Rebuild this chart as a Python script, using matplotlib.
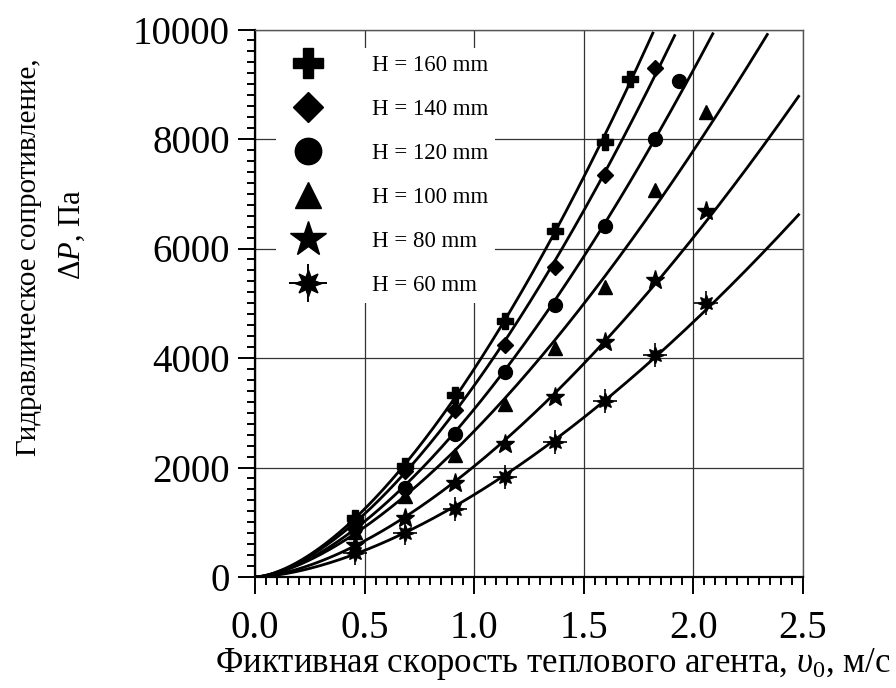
import numpy as np
import matplotlib
matplotlib.use("Agg")
import matplotlib.pyplot as plt
from matplotlib.lines import Line2D
from matplotlib.legend_handler import HandlerTuple
from matplotlib.ticker import MultipleLocator

plt.rcParams['font.family'] = ['Liberation Serif', 'DejaVu Serif']
plt.rcParams['mathtext.fontset'] = 'custom'
plt.rcParams['mathtext.rm'] = 'Liberation Serif'
plt.rcParams['mathtext.it'] = 'Liberation Serif:italic'

# ---- data ----
labels = ["H = 160 mm", "H = 140 mm", "H = 120 mm", "H = 100 mm", "H = 80 mm", "H = 60 mm"]
x_h160 = [0.455, 0.683, 0.911, 1.139, 1.367, 1.595, 1.71]
dp_h160 = [1070, 2030, 3320, 4670, 6320, 7950, 9100]
x_h140 = [0.455, 0.683, 0.911, 1.139, 1.367, 1.595, 1.823]
dp_h140 = [980, 1940, 3050, 4240, 5670, 7340, 9300]
x_h120 = [0.455, 0.683, 0.911, 1.139, 1.367, 1.595, 1.823, 1.934]
dp_h120 = [900, 1630, 2610, 3750, 4970, 6420, 8000, 9060]
x_h100 = [0.455, 0.683, 0.911, 1.139, 1.367, 1.595, 1.823, 2.056]
dp_h100 = [820, 1480, 2230, 3160, 4190, 5300, 7060, 8490]
x_h80 = [0.455, 0.683, 0.911, 1.139, 1.367, 1.595, 1.823, 2.056]
dp_h80 = [590, 1070, 1710, 2430, 3290, 4300, 5420, 6690]
x_h60 = [0.455, 0.683, 0.911, 1.139, 1.367, 1.595, 1.823, 2.056]
dp_h60 = [430, 800, 1250, 1830, 2470, 3220, 4055, 5000]

xs = [x_h160, x_h140, x_h120, x_h100, x_h80, x_h60]
ys = [dp_h160, dp_h140, dp_h120, dp_h100, dp_h80, dp_h60]

xticks = [0.0, 0.5, 1.0, 1.5, 2.0, 2.5]
yticks = [0, 2000, 4000, 6000, 8000, 10000]

fig = plt.figure(figsize=(8.96, 6.88), dpi=100)
ax = fig.add_axes([255/896, 1-577/688, (803-255)/896, (577-29.5)/688])

ax.set_xlim(0, 2.5)
ax.set_ylim(0, 10000)

# fitted power-law trend lines (fitted from the data points)
xx = np.linspace(0.0, 2.48, 400)
for x, y in zip(xs, ys):
    b, loga = np.polyfit(np.log(x), np.log(y), 1)
    yy = np.exp(loga) * xx ** b
    yy = np.where(yy > 9940, np.nan, yy)
    ax.plot(xx, yy, color='black', lw=2.0, zorder=3)

mk = dict(color='black', linestyle='none', zorder=4)
ax.plot(x_h160, dp_h160, marker='P', ms=11, **mk)
ax.plot(x_h140, dp_h140, marker='D', ms=8, **mk)
ax.plot(x_h120, dp_h120, marker='o', ms=10, **mk)
ax.plot(x_h100, dp_h100, marker='^', ms=10, **mk)
ax.plot(x_h80, dp_h80, marker='*', ms=14, **mk)
ax.plot(x_h60, dp_h60, marker=(8, 1, 0), ms=12, **mk)
ax.plot(x_h60, dp_h60, marker='+', ms=17, mew=1.2, **mk)

# legend handles (bigger markers)
s = 1.9
L1 = Line2D([], [], marker='P', ms=11*s, **mk)
L2 = Line2D([], [], marker='D', ms=8*s, **mk)
L3 = Line2D([], [], marker='o', ms=10*s, **mk)
L4 = Line2D([], [], marker='^', ms=10*s, **mk)
L5 = Line2D([], [], marker='*', ms=14*s, **mk)
L6a = Line2D([], [], marker=(8, 1, 0), ms=12*1.6, **mk)
L6b = Line2D([], [], marker='+', ms=17*1.6, mew=1.4, **mk)
leg = ax.legend([L1, L2, L3, L4, L5, (L6a, L6b)], labels,
                handler_map={tuple: HandlerTuple(ndivide=1, pad=0)},
                loc='upper left', bbox_to_anchor=(0.017, 0.987),
                fontsize=16.5, frameon=True, framealpha=1, facecolor='white',
                edgecolor='none', fancybox=False, labelspacing=1.0,
                handlelength=2.2, handletextpad=1.7, borderpad=0.3)
leg.set_zorder(5)

ax.set_xticks(xticks)
ax.set_yticks(yticks)
ax.set_xticklabels([f"{t:.1f}" for t in xticks])
ax.set_yticklabels([str(t) for t in yticks])
ax.xaxis.set_minor_locator(MultipleLocator(0.05))
ax.yaxis.set_minor_locator(MultipleLocator(200))
ax.tick_params(which='major', direction='out', length=12, width=1.4, labelsize=28)
ax.tick_params(which='minor', direction='out', length=6, width=1.4)
ax.tick_params(axis='x', which='major', pad=12)
ax.tick_params(axis='y', which='major', pad=6)
ax.tick_params(top=False, right=False)
ax.grid(True, which='major', color='#333333', lw=0.9, zorder=1)
ax.set_axisbelow(True)

for side in ['left', 'bottom']:
    ax.spines[side].set_linewidth(1.6)
for side in ['top', 'right']:
    ax.spines[side].set_linewidth(1.0)
    ax.spines[side].set_color('#555555')

fig.text(553/896, 1-672/688, 'Фиктивная скорость теплового агента, $\\upsilon_0$, м/с',
         ha='center', va='baseline', fontsize=25)
fig.text(29/896, 1-257/688, 'Гидравлическое сопротивление,', rotation=90,
         ha='center', va='center', fontsize=21)
fig.text(72/896, 1-235/688, 'Δ$P$, Па', rotation=90,
         ha='center', va='center', fontsize=22)

fig.savefig('out.png', dpi=100)
